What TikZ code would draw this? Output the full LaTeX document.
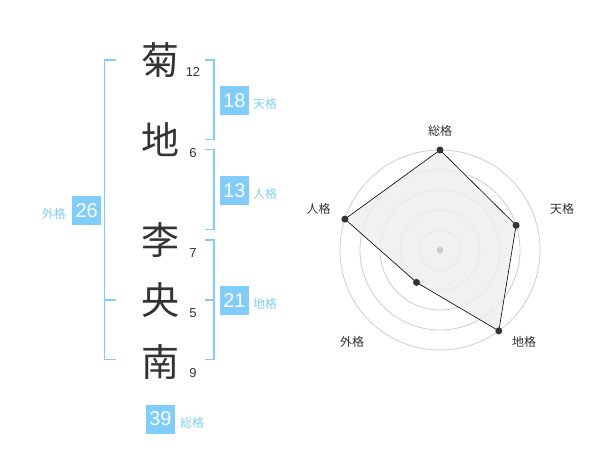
\documentclass[tikz,border=0pt]{standalone}
\usepackage{fontspec}
\setmainfont{Liberation Sans}
\newfontfamily\jp{Noto Sans CJK JP}
\usetikzlibrary{calc}
\definecolor{lblue}{RGB}{128,204,250}
\definecolor{dk}{RGB}{51,51,51}
\definecolor{ring}{RGB}{204,204,204}
\definecolor{fillg}{RGB}{238,238,238}
\tikzset{
  kanji/.style={font=\jp\fontsize{38}{38}\selectfont, text=dk, inner sep=0pt},
  stroke/.style={font=\fontsize{13}{13}\selectfont, text=dk, inner sep=0pt},
  numbox/.style={fill=lblue, text=white, minimum width=29pt, minimum height=29pt, inner sep=0pt, font=\fontsize{20}{20}\selectfont},
  kaku/.style={font=\jp\fontsize{12}{12}\selectfont, text=lblue, inner sep=0pt},
  brk/.style={draw=lblue, line width=1.5pt},
  rlabel/.style={font=\jp\fontsize{12}{12}\selectfont, text=dk, inner sep=0pt},
  dot/.style={circle, fill=dk, inner sep=0pt, minimum size=7pt},
}
\begin{document}
\begin{tikzpicture}[x=1pt,y=-1pt]
\useasboundingbox (0,0) rectangle (600,470);
% kanji
\node[kanji] (k1) at (160,60) {菊};
\node[kanji] (k2) at (160,140) {地};
\node[kanji] (k3) at (160,240) {李};
\node[kanji] (k4) at (160,300) {央};
\node[kanji] (k5) at (160,362) {南};
% strokes
\node[stroke] (s1) at (193,72) {12};
\node[stroke] (s2) at (193,153) {6};
\node[stroke] (s3) at (193,253) {7};
\node[stroke] (s4) at (193,313) {5};
\node[stroke] (s5) at (193,373) {9};
% right brackets
\draw[brk] (205,60) -- (214,60) -- (214,139.5) -- (205,139.5);
\draw[brk] (205,149.5) -- (214,149.5) -- (214,229.5) -- (205,229.5);
\draw[brk] (205,240) -- (214,240) -- (214,359.5) -- (205,359.5);
\draw[brk] (205,300) -- (214,300);
% left bracket
\draw[brk] (116,60) -- (104.5,60) -- (104.5,359.5) -- (116,359.5);
\draw[brk] (104.5,300) -- (116,300);
% boxes
\node[numbox] (b1) at (234.5,100.5) {18};
\node[kaku, anchor=west] (l1) at (253,104) {天格};
\node[numbox] (b2) at (234.5,190.5) {13};
\node[kaku, anchor=west] (l2) at (253,194) {人格};
\node[numbox] (b3) at (234.5,300.5) {21};
\node[kaku, anchor=west] (l3) at (253,304) {地格};
\node[numbox] (b4) at (86.7,210.5) {26};
\node[kaku, anchor=east] (l4) at (66,214) {外格};
\node[numbox] (b5) at (160.5,419) {39};
\node[kaku, anchor=west] (l5) at (180,423) {総格};
% radar
\coordinate (c) at (440,250);
\foreach \r in {20,40,60,80,100} \draw[ring, line width=0.8pt] (c) circle (\r);
\coordinate (p1) at (440,150);
\coordinate (p2) at ($(c)+(76.1,-24.7)$);
\coordinate (p3) at ($(c)+(58.8,80.9)$);
\coordinate (p4) at ($(c)+(-23.5,32.4)$);
\coordinate (p5) at ($(c)+(-95.1,-30.9)$);
\filldraw[fill=fillg, fill opacity=0.85, draw=black, line width=0.6pt] (p1) -- (p2) -- (p3) -- (p4) -- (p5) -- cycle;
\fill[ring] (c) circle (3.5);
\foreach \p in {p1,p2,p3,p4,p5} \node[dot] at (\p) {};
\node[rlabel] (r1) at (440,130.5) {総格};
\node[rlabel] (r2) at (562,208.5) {天格};
\node[rlabel] (r3) at (524,341.5) {地格};
\node[rlabel] (r4) at (352,341.5) {外格};
\node[rlabel] (r5) at (318.5,208.5) {人格};
\end{tikzpicture}
\end{document}
